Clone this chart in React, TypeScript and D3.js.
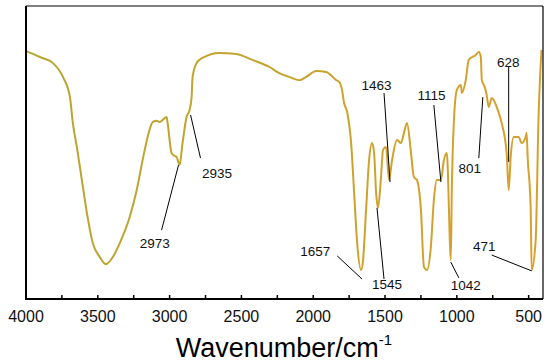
import * as React from "react";
import * as d3 from "d3";

// spectrum trace
const wavenumbers = [
  4000, 3903, 3812, 3743, 3694, 3674, 3646, 3611, 3576, 3535, 3486, 3444, 3396,
  3347, 3278, 3229, 3188, 3153, 3118, 3090, 3069, 3021, 3014, 2986, 2965, 2951,
  2931, 2910, 2882, 2861, 2847, 2840, 2813, 2771, 2653, 2535, 2424, 2306, 2236,
  2167, 2097, 2049, 1979, 1910, 1840, 1819, 1799, 1785, 1764, 1736, 1715, 1694,
  1667, 1653, 1632, 1611, 1590, 1576, 1562, 1549, 1528, 1514, 1493, 1472, 1451,
  1417, 1389, 1368, 1347, 1319, 1299, 1278, 1250, 1229, 1208, 1181, 1160, 1139,
  1111, 1090, 1069, 1062, 1049, 1042, 1035, 1021, 1000, 972, 965, 938, 917, 868,
  847, 833, 826, 806, 792, 778, 757, 722, 688, 653, 639, 625, 604, 569, 549, 521,
  514, 507, 486, 479, 451, 431, 417, 410,
];
const transmittance = [
  84.6, 82.6, 80.5, 75.8, 68.9, 60.1, 51.9, 40.6, 29.4, 19.1, 14.3, 11.9, 14.3,
  19.1, 28.0, 37.2, 47.4, 55.3, 60.4, 60.8, 60.4, 62.1, 60.1, 49.8, 48.8, 48.5,
  45.7, 53.2, 62.1, 64.5, 68.9, 75.8, 80.5, 82.3, 84.0, 83.6, 81.6, 79.2, 77.1,
  75.8, 74.7, 75.8, 77.8, 77.5, 74.7, 74.1, 71.3, 66.9, 63.8, 53.2, 36.2, 19.1,
  9.9, 13.3, 30.4, 47.4, 53.2, 49.8, 36.2, 31.1, 41.6, 50.9, 51.9, 40.6, 47.4,
  54.3, 53.2, 56.7, 60.1, 49.8, 41.6, 40.6, 30.4, 10.9, 9.9, 17.7, 33.8, 40.6,
  40.6, 47.4, 49.8, 43.0, 20.1, 13.3, 37.2, 60.1, 71.3, 73.0, 70.3, 74.7, 81.6,
  83.3, 84.3, 82.6, 74.7, 72.4, 69.6, 65.5, 68.6, 65.5, 60.1, 49.8, 37.2, 48.5,
  55.3, 55.3, 53.2, 55.3, 56.7, 48.5, 31.4, 9.9, 20.1, 62.1, 79.2, 85.0,
];

const xTicks = d3.range(4000, 399, -250);
const xLabels = [4000, 3500, 3000, 2500, 2000, 1500, 1000, 500];

// peak labels: text anchor [wn, T], leader line from [wn, T] to [wn, T]
const peakLabels = ["2973", "2935", "1657", "1545", "1463", "1115", "1042", "471", "801", "628"];
const labelPos = [
  [3104, 17.4], [2670, 41.3], [1986, 14.7], [1486, 3.4], [1559, 71.3],
  [1177, 67.9], [938, 3.1], [809, 16.4], [910, 43.0], [642, 79.2],
];
const leaderFrom = [
  [3056, 23.5], [2785, 48.1], [1833, 14.7], [1507, 6.8], [1507, 70.3],
  [1160, 66.2], [986, 7.2], [757, 15.0], [847, 48.1], [639, 79.2],
];
const leaderTo = [
  [2938, 45.7], [2854, 62.8], [1660, 6.8], [1556, 31.1], [1465, 39.9],
  [1111, 39.9], [1042, 12.6], [479, 9.6], [819, 68.9], [639, 46.8],
];

const width = 550;
const height = 362;
const margin = { top: 6, right: 7, bottom: 63, left: 26 };
const font = "'Liberation Sans', Arial, sans-serif";

export default function App() {
  const x = d3
    .scaleLinear()
    .domain([4000, 400])
    .range([margin.left, width - margin.right]);
  const y = d3
    .scaleLinear()
    .domain([0, 100])
    .range([height - margin.bottom, margin.top]);

  const points = wavenumbers.map((w, i) => [w, transmittance[i]] as [number, number]);
  const line = d3
    .line<[number, number]>()
    .x((d) => x(d[0]))
    .y((d) => y(d[1]))
    .curve(d3.curveMonotoneX);

  const x0 = margin.left;
  const x1 = width - margin.right;
  const y0 = height - margin.bottom;
  const y1 = margin.top;

  return (
    <svg
      width={width}
      height={height}
      style={{ position: "absolute", left: 0, top: 0, background: "#fff" }}
      fontFamily={font}
    >
      <defs>
        <linearGradient id="trace" gradientUnits="userSpaceOnUse" x1={x0} x2={x1} y1={0} y2={0}>
          <stop offset="0" stopColor="#b8a533" />
          <stop offset="0.55" stopColor="#c9a32c" />
          <stop offset="1" stopColor="#d9a02e" />
        </linearGradient>
      </defs>

      <path d={line(points) ?? ""} fill="none" stroke="url(#trace)" strokeWidth={2} strokeLinejoin="round" />

      {/* frame */}
      <line x1={x0} x2={x1} y1={y1} y2={y1} stroke="#000" strokeWidth={1.2} />
      <line x1={x1} x2={x1} y1={y1} y2={y0} stroke="#000" strokeWidth={1.2} />
      <line x1={x0} x2={x0} y1={y1} y2={y0 + 1} stroke="#000" strokeWidth={2} />
      <line x1={x0 - 1} x2={x1} y1={y0} y2={y0} stroke="#000" strokeWidth={2} />

      {xTicks.map((t) => (
        <line key={t} x1={x(t)} x2={x(t)} y1={y0} y2={y0 - 4} stroke="#000" strokeWidth={1.5} />
      ))}
      {xLabels.map((t) => (
        <text key={t} x={x(t)} y={y0 + 23} textAnchor="middle" fontSize={16} fill="#111">
          {t}
        </text>
      ))}

      <text x={284} y={357} textAnchor="middle" fontSize={27} fill="#000">
        Wavenumber/cm
        <tspan fontSize={15} dy={-12}>
          -1
        </tspan>
      </text>

      {peakLabels.map((label, i) => (
        <g key={label}>
          <line
            x1={x(leaderFrom[i][0])}
            y1={y(leaderFrom[i][1])}
            x2={x(leaderTo[i][0])}
            y2={y(leaderTo[i][1])}
            stroke="#000"
            strokeWidth={1}
          />
          <text x={x(labelPos[i][0])} y={y(labelPos[i][1])} textAnchor="middle" fontSize={13.5} fill="#111">
            {label}
          </text>
        </g>
      ))}
    </svg>
  );
}
